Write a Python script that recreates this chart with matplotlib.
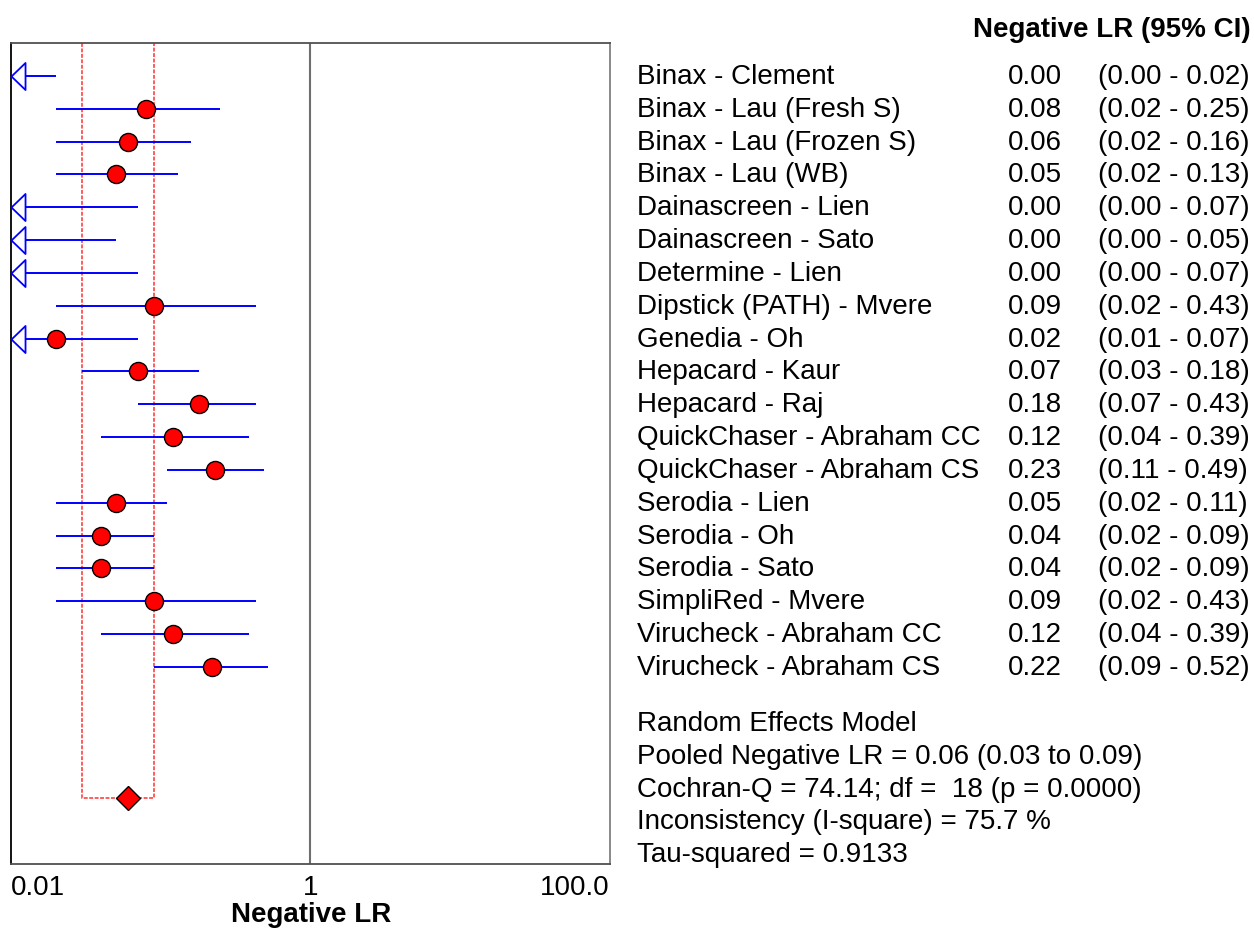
import matplotlib
matplotlib.use("Agg")
import matplotlib.pyplot as plt
from matplotlib import transforms
from matplotlib.path import Path

plt.rcParams['font.family'] = ['Liberation Sans', 'DejaVu Sans']

# ---- data -------------------------------------------------------------
studies = ["Binax - Clement", "Binax - Lau (Fresh S)", "Binax - Lau (Frozen S)",
           "Binax - Lau (WB)", "Dainascreen - Lien", "Dainascreen - Sato",
           "Determine - Lien", "Dipstick (PATH) - Mvere", "Genedia - Oh",
           "Hepacard - Kaur", "Hepacard - Raj", "QuickChaser - Abraham CC",
           "QuickChaser - Abraham CS", "Serodia - Lien", "Serodia - Oh",
           "Serodia - Sato", "SimpliRed - Mvere", "Virucheck - Abraham CC",
           "Virucheck - Abraham CS"]
neg_lr = [0.00, 0.08, 0.06, 0.05, 0.00, 0.00, 0.00, 0.09, 0.02, 0.07,
          0.18, 0.12, 0.23, 0.05, 0.04, 0.04, 0.09, 0.12, 0.22]
ci_low = [0.00, 0.02, 0.02, 0.02, 0.00, 0.00, 0.00, 0.02, 0.01, 0.03,
          0.07, 0.04, 0.11, 0.02, 0.02, 0.02, 0.02, 0.04, 0.09]
ci_high = [0.02, 0.25, 0.16, 0.13, 0.07, 0.05, 0.07, 0.43, 0.07, 0.18,
           0.43, 0.39, 0.49, 0.11, 0.09, 0.09, 0.43, 0.39, 0.52]

pooled = 0.06
pooled_low = 0.03
pooled_high = 0.09

summary_lines = ["Random Effects Model",
                 "Pooled Negative LR = 0.06 (0.03 to 0.09)",
                 "Cochran-Q = 74.14; df =  18 (p = 0.0000)",
                 "Inconsistency (I-square) = 75.7 %",
                 "Tau-squared = 0.9133"]

tick_values = [0.01, 1, 100]
tick_labels = ["0.01", "1", "100.0"]

# ---- figure -----------------------------------------------------------
W, H = 1254, 929
fig = plt.figure(figsize=(W / 100, H / 100), dpi=100)
ax = fig.add_axes([11 / W, (H - 865) / H, 599 / W, 821 / H])

XMIN, XMAX = 0.01, 100
ax.set_xscale('log')
ax.set_xlim(XMIN, XMAX)
n = len(studies)
pooled_row = n + 4
ax.set_ylim(n + 6, 0)
ax.set_yticks([])

FS = 20
BLUE = '#0000ff'

# reference line at LR = 1
ax.axvline(1, color='#6e6e6e', lw=1.5, zorder=1)

# pooled confidence band outline
ax.plot([pooled_low, pooled_low, pooled_high, pooled_high],
        [0, pooled_row, pooled_row, 0],
        color='#ff5c5c', lw=1.4, ls=(0, (2, 0.8)), zorder=1)

# open arrow head for intervals running past the left edge
arrow_path = Path([(0, 0), (14, 13.5), (14, -13.5), (0, 0)],
                  [Path.MOVETO, Path.LINETO, Path.LINETO, Path.CLOSEPOLY])

rows = list(range(1, n + 1))
for y, est, lo, hi in zip(rows, neg_lr, ci_low, ci_high):
    if lo <= XMIN:
        ax.plot([XMIN * 10 ** (14 / 150), hi], [y, y], color=BLUE, lw=1.4,
                zorder=2, solid_capstyle='butt')
        ax.plot([XMIN], [y], marker=arrow_path, markersize=20.2,
                markerfacecolor='white', markeredgecolor=BLUE,
                markeredgewidth=1.3, clip_on=False, zorder=3)
    else:
        ax.plot([lo, hi], [y, y], color=BLUE, lw=1.4, zorder=2,
                solid_capstyle='butt')
    if est >= XMIN:
        ax.plot([est], [y], 'o', markersize=13, markerfacecolor='#ff0000',
                markeredgecolor='black', markeredgewidth=1.0, zorder=4)

# pooled estimate
ax.plot([pooled], [pooled_row], 'D', markersize=12.5,
        markerfacecolor='#ff0000', markeredgecolor='black',
        markeredgewidth=1.0, zorder=5, clip_on=False)

# frame
ax.spines['left'].set_color('black')
ax.spines['top'].set_color('#505050')
ax.spines['right'].set_color('#808080')
ax.spines['bottom'].set_color('#505050')
for s in ax.spines.values():
    s.set_linewidth(1.3)

ax.set_xticks(tick_values)
ax.set_xticklabels(tick_labels, fontsize=FS)
ax.minorticks_off()
ax.tick_params(axis='x', length=0, pad=7)
labs = ax.get_xticklabels()
labs[0].set_ha('left')
labs[-1].set_ha('right')

fig.text(311 / W, 1 - 915 / H, "Negative LR", fontsize=FS, fontweight='bold',
         ha='center', va='center')

# study table on the right
tr = transforms.blended_transform_factory(fig.transFigure, ax.transData)
fig.text(1251 / W, 1 - 30 / H, "Negative LR (95% CI)", fontsize=FS,
         fontweight='bold', ha='right', va='center')
for y, name, est, lo, hi in zip(rows, studies, neg_lr, ci_low, ci_high):
    fig.text(637 / W, y, name, fontsize=FS, ha='left', va='center',
             transform=tr)
    fig.text(1008 / W, y, f"{est:.2f}", fontsize=FS, ha='left', va='center',
             transform=tr)
    fig.text(1098 / W, y, f"({lo:.2f} - {hi:.2f})", fontsize=FS, ha='left',
             va='center', transform=tr)

for i, line in enumerate(summary_lines):
    fig.text(637 / W, 1 - (724 + 32.8 * i) / H, line, fontsize=FS,
             ha='left', va='center')

fig.savefig("out.png", dpi=100, facecolor='white')
